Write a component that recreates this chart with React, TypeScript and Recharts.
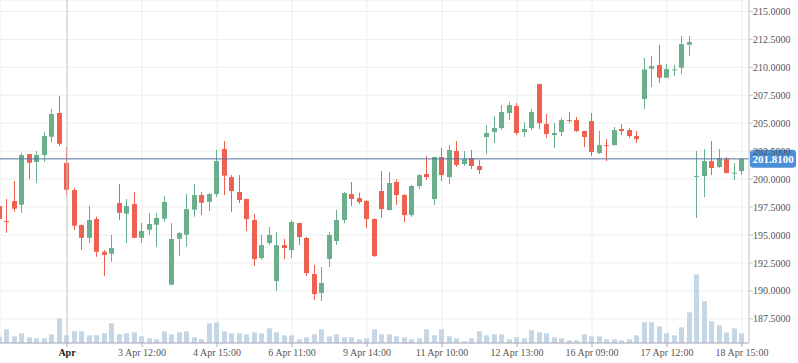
import { ComposedChart, Bar, XAxis, YAxis, CartesianGrid, ReferenceLine } from 'recharts'

// hourly candles, 2 Apr .. 18 Apr
const opens = [
  197.59, 196.25, 198.04, 197.71, 202.24, 201.53, 202.15, 203.79, 205.91, 201.44,
  199.02, 195.89, 194.75, 196.43, 193.5, 193.32, 197.86, 196.9, 197.77, 194.75,
  195.47, 195.92, 196.46, 190.55, 194.66, 195.02, 197.26, 198.57, 197.97, 198.66,
  202.69, 200.18, 198.84, 198.22, 196.34, 192.94, 194.28, 190.88, 194.1, 193.65,
  196.07, 194.73, 191.51, 189.81, 192.85, 194.46, 196.34, 198.66, 198.3, 198.04,
  196.43, 198.93, 197.23, 199.74, 198.57, 196.78, 199.38, 200.45, 198.22, 201.97,
  200.18, 202.51, 201.35, 201.88, 201.17, 203.76, 204.21, 204.57, 205.91, 206.53,
  204.21, 204.57, 208.5, 204.92, 203.94, 204.21, 205.28, 205.28, 204.3, 205.19,
  202.33, 203.04, 203.04, 204.48, 204.39, 203.85, 207.16, 209.87, 210.2, 209.07,
  209.76, 209.96, 212.02, 200.2, 200.27, 201.61, 201.08, 201.79, 200.48, 200.72,
]
const highs = [
  198.13, 198.22, 199.83, 202.36, 202.24, 202.51, 204.24, 206.27, 207.43, 202.87,
  199.23, 195.95, 197.59, 196.63, 193.65, 195.0, 199.56, 198.22, 198.84, 196.07,
  196.96, 196.96, 198.48, 196.07, 195.26, 198.66, 199.56, 198.84, 198.75, 202.6,
  203.4, 200.36, 200.36, 198.25, 196.87, 195.0, 195.71, 195.26, 194.64, 196.34,
  196.1, 194.82, 192.31, 192.13, 195.26, 197.23, 198.84, 199.74, 198.8, 198.13,
  196.46, 200.72, 200.63, 200.0, 198.66, 199.47, 200.45, 202.06, 202.0, 202.78,
  203.04, 203.4, 202.51, 202.6, 201.7, 204.83, 205.64, 206.62, 206.89, 206.8,
  205.1, 206.27, 208.53, 205.82, 205.01, 205.46, 206.0, 205.55, 204.33, 205.91,
  204.3, 203.58, 204.66, 204.92, 204.57, 204.3, 210.83, 211.0, 212.0, 210.29,
  210.2, 212.8, 212.8, 202.51, 202.69, 203.4, 202.69, 201.97, 201.44, 201.88,
]
const lows = [
  195.98, 195.2, 197.08, 196.99, 200.0, 199.67, 201.55, 203.29, 202.98, 198.51,
  195.44, 193.65, 194.28, 193.05, 191.33, 192.61, 196.34, 194.28, 194.72, 194.28,
  195.0, 193.95, 196.19, 190.52, 193.14, 193.95, 196.63, 196.79, 197.14, 198.39,
  198.57, 197.06, 197.86, 195.35, 192.22, 192.76, 194.1, 190.0, 192.85, 192.94,
  194.1, 191.33, 189.18, 189.09, 192.13, 194.1, 196.07, 197.59, 197.77, 195.62,
  193.03, 196.52, 197.2, 197.68, 196.16, 196.61, 199.11, 199.92, 197.68, 199.83,
  199.56, 201.08, 201.17, 200.9, 200.45, 202.24, 203.22, 204.39, 205.28, 203.94,
  203.76, 204.39, 204.48, 203.67, 202.78, 203.85, 205.01, 204.21, 202.87, 202.06,
  202.24, 201.61, 203.02, 203.94, 203.67, 203.22, 206.27, 208.23, 208.62, 209.05,
  209.24, 209.42, 211.03, 196.52, 198.39, 200.36, 200.99, 200.52, 199.92, 200.36,
]
const closes = [
  196.43, 196.2, 197.35, 202.15, 201.46, 202.15, 203.85, 205.82, 203.16, 199.05,
  195.83, 194.75, 196.34, 193.5, 193.23, 193.83, 196.99, 197.59, 194.75, 195.35,
  195.98, 196.52, 197.95, 194.64, 195.17, 197.32, 198.57, 197.88, 198.66, 201.61,
  200.3, 198.93, 198.13, 196.43, 192.85, 194.1, 195.0, 194.1, 193.83, 196.16,
  194.82, 191.6, 189.72, 190.7, 195.0, 196.34, 198.75, 198.22, 197.95, 196.43,
  193.12, 197.32, 199.65, 198.57, 196.78, 199.38, 200.36, 200.18, 201.97, 200.36,
  202.6, 201.26, 201.79, 201.17, 200.81, 204.12, 204.57, 206.0, 206.62, 204.12,
  204.48, 206.0, 205.01, 204.03, 204.12, 205.28, 205.19, 204.3, 203.76, 202.42,
  203.04, 202.98, 204.39, 204.3, 203.85, 203.58, 209.81, 210.11, 209.07, 209.84,
  209.81, 212.08, 212.26, 200.27, 201.61, 200.99, 201.88, 200.54, 200.57, 201.81,
]
const volumes = [
  60, 137, 67, 97, 57, 47, 47, 87, 247, 77,
  117, 117, 77, 77, 97, 197, 87, 97, 107, 67,
  47, 37, 117, 87, 107, 117, 57, 37, 197, 207,
  117, 97, 97, 87, 107, 97, 147, 107, 77, 77,
  37, 57, 87, 137, 67, 87, 57, 57, 37, 47,
  137, 87, 87, 67, 57, 37, 47, 137, 77, 137,
  67, 47, 17, 47, 117, 77, 87, 87, 37, 57,
  47, 127, 107, 97, 57, 47, 27, 27, 87, 67,
  67, 37, 37, 27, 37, 77, 207, 207, 167, 97,
  77, 157, 307, 687, 417, 217, 177, 107, 147, 97,
]

const tickIndex = [9, 19, 29, 39, 49, 59, 69, 79, 89, 99]
const tickLabels = [
  'Apr', '3 Apr 12:00', '4 Apr 15:00', '6 Apr 11:00', '9 Apr 14:00',
  '11 Apr 10:00', '12 Apr 13:00', '16 Apr 09:00', '17 Apr 12:00', '18 Apr 15:00',
]
const priceTicks = [187.5, 190, 192.5, 195, 197.5, 200, 202.5, 205, 207.5, 210, 212.5, 215]

const data = opens.map((open, i) => ({
  i,
  open,
  high: highs[i],
  low: lows[i],
  close: closes[i],
  volume: volumes[i],
}))
const lastPrice = closes[closes.length - 1]

const UP = '#6aaf8c'
const DOWN = '#ec6150'
const FONT = '"Liberation Serif", "Times New Roman", serif'

function Candle(props: any) {
  const { x, y, width, height, payload } = props
  if (!payload || height == null) return null
  const { open, close, high, low } = payload
  const color = close >= open ? UP : DOWN
  const k = height / (high - low)
  const yo = y + (high - open) * k
  const yc = y + (high - close) * k
  const top = Math.min(yo, yc)
  const h = Math.max(Math.abs(yo - yc), 1)
  const left = Math.round(x)
  const cx = left + width / 2
  return (
    <g>
      <line x1={cx} x2={cx} y1={y} y2={y + height} stroke={color} strokeWidth={1} />
      <rect x={left} y={top} width={width} height={h} fill={color} />
    </g>
  )
}

function VolumeBar(props: any) {
  const { x, y, width, height } = props
  if (height == null || height <= 0) return null
  return <rect x={Math.round(x)} y={y} width={width} height={height} fill="#c5d6e6" />
}

function XTick(props: any) {
  const { x, y, payload } = props
  const label = tickLabels[tickIndex.indexOf(payload.value)]
  const major = label === 'Apr'
  return (
    <text x={x} y={y} dy="0.71em" textAnchor="middle" fontSize={10} fontFamily={FONT}
      fill={major ? '#222' : '#555'} fontWeight={major ? 'bold' : 'normal'}>
      {label}
    </text>
  )
}

function PriceLabel(props: any) {
  const { viewBox } = props
  if (!viewBox) return null
  const x = viewBox.x + viewBox.width + 1
  const y = viewBox.y
  return (
    <g>
      <rect x={x} y={y - 9} width={46} height={18} rx={3} fill="#4a8fd8" />
      <text x={x + 23} y={y} dy="0.36em" textAnchor="middle" fill="#fff" fontSize={11}
        fontWeight="bold" fontFamily={FONT}>
        {lastPrice.toFixed(4)}
      </text>
    </g>
  )
}

const xDomain = [0.0667, 99.933]

export default function App() {
  return (
    <div style={{ position: 'absolute', left: 0, top: 0, width: 798, height: 363, background: '#fff' }}>
      <ComposedChart width={798} height={363} data={data} margin={{ top: 0, right: 0, bottom: 0, left: 0 }}>
        <CartesianGrid stroke="#eeeeee" />
        <XAxis
          dataKey="i"
          type="number"
          domain={xDomain}
          allowDataOverflow
          ticks={tickIndex}
          interval={0}
          height={20}
          tickSize={4}
          tickMargin={2}
          stroke="#aab"
          tick={<XTick />}
        />
        <XAxis xAxisId="v" dataKey="i" type="number" domain={xDomain} allowDataOverflow hide />
        <YAxis
          orientation="right"
          width={49}
          domain={[185.34, 216.02]}
          allowDataOverflow
          ticks={priceTicks}
          interval={0}
          tickSize={4}
          tickMargin={0}
          stroke="#c8c8c8"
          tick={{ fontSize: 10, fontFamily: FONT, fill: '#555' }}
          tickFormatter={(v: number) => v.toFixed(4)}
        />
        <YAxis yAxisId="v" hide domain={[0, 3430]} />
        <Bar xAxisId="v" yAxisId="v" dataKey="volume" barSize={5} shape={<VolumeBar />} isAnimationActive={false} />
        <ReferenceLine x={9} stroke="#c8c8c8" />
        <Bar dataKey={(d: any) => [d.low, d.high]} barSize={5} shape={<Candle />} isAnimationActive={false} />
        <ReferenceLine y={lastPrice} stroke="#50729f" label={<PriceLabel />} />
      </ComposedChart>
    </div>
  )
}
